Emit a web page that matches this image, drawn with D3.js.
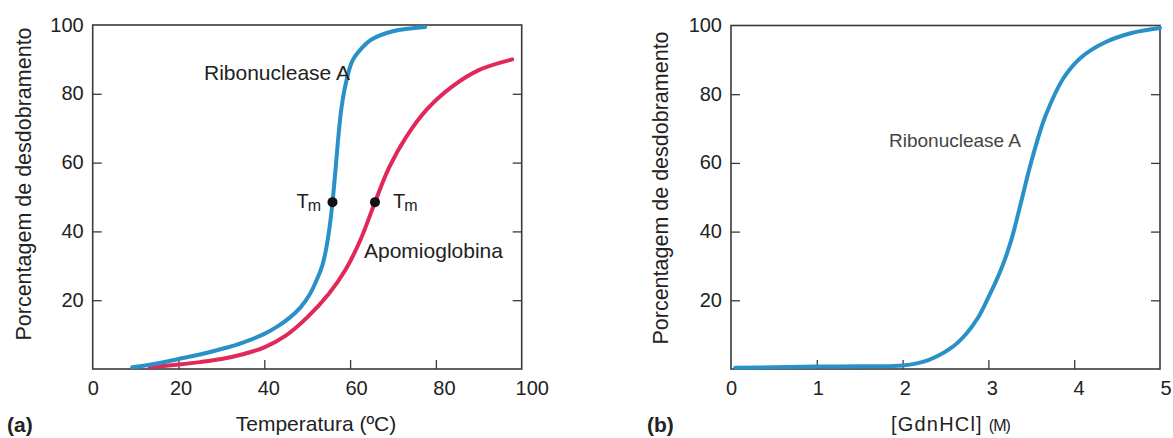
<!DOCTYPE html>
<html>
<head>
<meta charset="utf-8">
<script src="https://cdn.jsdelivr.net/npm/d3@7"></script>
<style>
  html, body { margin: 0; padding: 0; background: #fff; }
  svg text { font-family: "Liberation Sans", Arial, Helvetica, sans-serif; fill: #222; }
</style>
</head>
<body>
<svg id="chart" width="1173" height="438"></svg>
<script>
// ---------- data ----------
// Panel (a): temperature (°C) vs % unfolded
const ribTemp   = [9.2, 15, 20, 25, 30, 35, 40, 43, 46, 48.5, 50.5, 52, 53.5, 54.5, 55.3, 55.9, 56.6, 57.3, 58, 59, 60.5, 62.5, 65, 70, 77.5];
const ribTempY  = [0.5, 1.6, 2.9, 4.2, 5.8, 7.7, 10.2, 12.3, 15, 18, 21.5, 25.3, 30, 35.5, 42, 48.5, 58, 68, 76, 83, 89.5, 93, 95.8, 98.2, 99.4];
const apoTemp   = [13.3, 20, 25, 30, 35, 40, 45, 50, 55, 59, 62.5, 65.8, 69, 73, 78, 84, 90, 97.8];
const apoTempY  = [0.5, 1.3, 2.0, 2.9, 4.3, 6.3, 9.7, 15, 21.8, 29, 37.8, 48.5, 58.3, 67.3, 75.6, 82.3, 86.9, 90];
const tmPoints  = [{x: 55.9, y: 48.5, side: "left"}, {x: 65.8, y: 48.5, side: "right"}];
// Panel (b): [GdnHCl] (M) vs % unfolded
const gdnConc   = [0.05, 0.5, 1, 1.5, 2, 2.3, 2.57, 2.74, 2.88, 2.98, 3.14, 3.26, 3.38, 3.48, 3.57, 3.67, 3.87, 4.07, 4.35, 4.68, 5.0];
const gdnY      = [0.4, 0.5, 0.7, 0.8, 1.0, 2.6, 6.2, 10.2, 15, 19.8, 28.5, 37, 48.5, 58.5, 66.5, 74, 84.5, 90.5, 95, 97.9, 99.3];
// ticks
const tempTicks = [0, 20, 40, 60, 80, 100];
const concTicks = [0, 1, 2, 3, 4, 5];
const pctTicks  = [20, 40, 60, 80, 100];

const BLUE = "#2a90c8", RED = "#e0285a", AXIS = "#3a3a3a";
const svg = d3.select("#chart");

function panel(opts) {
  const g = svg.append("g");
  const x = d3.scaleLinear().domain(opts.xDomain).range([opts.left, opts.right]);
  const y = d3.scaleLinear().domain([0, 100]).range([opts.bottom, opts.top]);

  const ly = g.append("g").attr("transform", `translate(${opts.left},0)`)
    .call(d3.axisLeft(y).tickValues(pctTicks).tickSize(-9).tickPadding(9));
  g.append("g").attr("transform", `translate(${opts.right},0)`)
    .call(d3.axisRight(y).tickValues(pctTicks.slice(0, 4)).tickSize(-9).tickFormat(""));
  const bx = g.append("g").attr("transform", `translate(0,${opts.bottom})`)
    .call(d3.axisBottom(x).tickValues(opts.xTicks).tickSize(-9).tickPadding(12).tickFormat(d3.format("d")));
  bx.selectAll(".tick line").filter((d, i) => i === 0 || i === opts.xTicks.length - 1).remove();
  ly.selectAll(".tick line").filter(d => d === 100).remove();
  bx.selectAll(".tick text").attr("dx", (d, i) => i * opts.drift);

  g.selectAll(".domain").remove();
  g.selectAll(".tick line").attr("stroke", AXIS).attr("stroke-width", 1.3);
  g.selectAll(".tick text").style("font-size", "20px").attr("fill", "#222");
  ly.selectAll(".tick text").attr("dy", "0.3em");

  g.append("rect").attr("x", opts.left).attr("y", opts.top)
    .attr("width", opts.right - opts.left).attr("height", opts.bottom - opts.top)
    .attr("fill", "none").attr("stroke", AXIS).attr("stroke-width", 1.6);

  g.append("text")
    .attr("transform", `translate(${opts.yTitleX},${opts.yTitleY}) rotate(-90)`)
    .attr("text-anchor", "middle").style("font-size", "21.5px")
    .text("Porcentagem de desdobramento");

  g.append("text").attr("x", opts.letterX).attr("y", 432)
    .style("font-size", "21px").style("font-weight", "bold").text(opts.letter);

  return {g, x, y};
}

const line = (xs, ys, P) => d3.line().curve(d3.curveCatmullRom.alpha(0.5))
  .x((d, i) => P.x(xs[i])).y((d, i) => P.y(ys[i]))(xs);

// ----- Panel (a)
const A = panel({xDomain: [0, 100], left: 92.7, right: 521.7, top: 25, bottom: 369,
  xTicks: tempTicks, drift: 2, yTitleX: 31, yTitleY: 184, letter: "(a)", letterX: 7});

A.g.append("path").attr("d", line(apoTemp, apoTempY, A))
  .attr("fill", "none").attr("stroke", RED).attr("stroke-width", 4).attr("stroke-linecap", "round");
A.g.append("path").attr("d", line(ribTemp, ribTempY, A))
  .attr("fill", "none").attr("stroke", BLUE).attr("stroke-width", 4).attr("stroke-linecap", "round");

A.g.selectAll("circle.tm").data(tmPoints).join("circle")
  .attr("class", "tm").attr("cx", d => A.x(d.x)).attr("cy", d => A.y(d.y)).attr("r", 5).attr("fill", "#111");

tmPoints.forEach(d => {
  const t = A.g.append("text").style("font-size", "20px")
    .attr("x", d.side === "left" ? A.x(d.x) - 36 : A.x(d.x) + 18)
    .attr("y", A.y(d.y) + 6);
  t.append("tspan").text("T");
  t.append("tspan").attr("dy", 3).attr("dx", -1).style("font-size", "16px").text("m");
});

A.g.append("text").attr("x", 204).attr("y", 80).style("font-size", "21px").text("Ribonuclease A");
A.g.append("text").attr("x", 364).attr("y", 258).style("font-size", "21px").text("Apomioglobina");

A.g.append("text").attr("x", 316).attr("y", 431).attr("text-anchor", "middle")
  .style("font-size", "21px").text("Temperatura (ºC)");

// ----- Panel (b)
const B = panel({xDomain: [0, 5], left: 731, right: 1160, top: 25.5, bottom: 369,
  xTicks: concTicks, drift: 1.1, yTitleX: 668, yTitleY: 188, letter: "(b)", letterX: 647});

B.g.append("path").attr("d", line(gdnConc, gdnY, B))
  .attr("fill", "none").attr("stroke", BLUE).attr("stroke-width", 4).attr("stroke-linecap", "round");

B.g.append("text").attr("x", 889).attr("y", 147).style("font-size", "19px")
  .style("fill", "#444").text("Ribonuclease A");

const xtB = B.g.append("text").attr("x", 891).attr("y", 431).style("font-size", "20px");
xtB.append("tspan").style("letter-spacing", "1.2px").text("[GdnHCl]");
xtB.append("tspan").attr("dx", 6).style("font-size", "16px").style("letter-spacing", "-1px").text("(M)");
</script>
</body>
</html>
